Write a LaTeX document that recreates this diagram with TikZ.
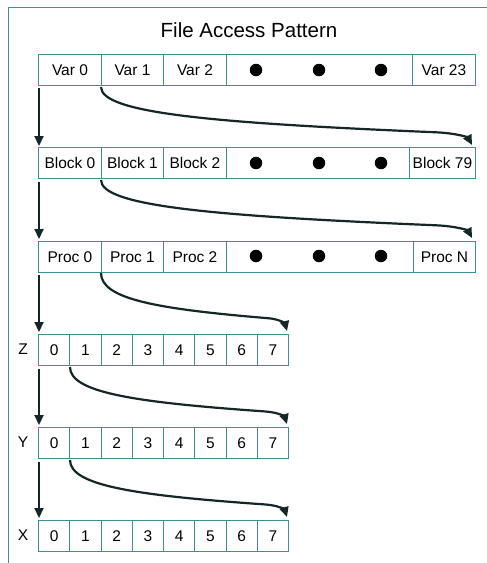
\documentclass[tikz,border=0pt]{standalone}
\usepackage{fontspec}
\setmainfont{Liberation Sans}
\usetikzlibrary{arrows.meta,calc}

\definecolor{cellline}{HTML}{3E9090}
\definecolor{arrowink}{HTML}{142626}

\tikzset{
  cell/.style={draw=cellline, line width=0.9pt, minimum height=31pt, inner sep=0pt,
               font=\fontsize{15.5}{15.5}\selectfont, anchor=north west},
  dot/.style={circle, fill=black, inner sep=0pt, minimum size=12.5pt},
  rowlabel/.style={font=\fontsize{15.5}{15.5}\selectfont},
  flow/.style={draw=arrowink, line width=2.2pt,
               -{Triangle[length=10pt,width=9pt]}},
}

% wavy connector from (#1) to (#2): drops, runs right, then dips into the target
\newcommand{\sweep}[2]{%
  \draw[flow] let \p1=(#1), \p2=(#2), \n1={\x2-\x1}, \n2={\y2-\y1} in
    (#1) .. controls ($(\x1,\y1)+(0,0.45*\n2)$) and ($(\x1,\y1)+(0.3*\n1,0.62*\n2)$) ..
    ($(\x1,\y1)+(0.9*\n1,0.78*\n2)$)
    .. controls ($(\x1,\y1)+(0.965*\n1,0.797*\n2)$) and ($(\x1,\y1)+(0.99*\n1,0.88*\n2)$) ..
    (#2);}

\begin{document}
\begin{tikzpicture}[x=1pt,y=-1pt]
\useasboundingbox (0,0) rectangle (487,563);

% outer frame (open on the right and bottom)
\draw[cellline, line width=0.9pt] (8,563) -- (8,7.5) -- (487,7.5);

\node[font=\fontsize{20.5}{20.5}\selectfont] (title) at (249,30) {File Access Pattern};

% ---- variables ----
\node[cell, minimum width=63pt] (v0) at (38,54) {Var 0};
\node[cell, minimum width=62pt] (v1) at (101,54) {Var 1};
\node[cell, minimum width=63pt] (v2) at (163,54) {Var 2};
\node[cell, minimum width=186pt] (vd) at (226,54) {};
\node[cell, minimum width=63pt] (v23) at (412,54) {Var 23};
\node[dot] (vd1) at (256,70) {};
\node[dot] (vd2) at (319,70) {};
\node[dot] (vd3) at (381,70) {};

% ---- blocks ----
\node[cell, minimum width=63pt] (b0) at (38,147) {Block 0};
\node[cell, minimum width=62pt] (b1) at (101,147) {Block 1};
\node[cell, minimum width=63pt] (b2) at (163,147) {Block 2};
\node[cell, minimum width=183pt] (bd) at (226,147) {};
\node[cell, minimum width=66pt] (b79) at (409,147) {Block 79};
\node[dot] (bd1) at (256,163) {};
\node[dot] (bd2) at (319,163) {};
\node[dot] (bd3) at (381,163) {};

% ---- processes ----
\node[cell, minimum width=63pt] (p0) at (38,241) {Proc 0};
\node[cell, minimum width=62pt] (p1) at (101,241) {Proc 1};
\node[cell, minimum width=63pt] (p2) at (163,241) {Proc 2};
\node[cell, minimum width=187pt] (pd) at (226,241) {};
\node[cell, minimum width=62pt] (pN) at (413,241) {Proc N};
\node[dot] (pd1) at (256,256) {};
\node[dot] (pd2) at (319,256) {};
\node[dot] (pd3) at (381,256) {};

% ---- Z, Y, X index rows ----
\foreach \r/\yy in {Z/334, Y/427, X/520} {
  \node[rowlabel] (lab\r) at (23,\yy+15.5) {\r};
  \foreach \i in {0,...,7} {
    \node[cell, minimum width=31.25pt] (\r\i) at (38+31.25*\i,\yy) {\i};
  }
}

% ---- downward arrows along the left ----
\coordinate (d0s) at (39,88);   \coordinate (d0e) at (39,146);
\coordinate (d1s) at (39,182);  \coordinate (d1e) at (39,239);
\coordinate (d2s) at (39,275);  \coordinate (d2e) at (39,332);
\coordinate (d3s) at (39,369);  \coordinate (d3e) at (39,425);
\coordinate (d4s) at (39,462);  \coordinate (d4e) at (39,518);
\foreach \k in {0,...,4} { \draw[flow] (d\k s) -- (d\k e); }

% ---- sweeping arrows ----
\coordinate (s0) at (101,87);   \coordinate (e0) at (472,145);
\coordinate (s1) at (101,180);  \coordinate (e1) at (472,238);
\coordinate (s2) at (101,273);  \coordinate (e2) at (287,331);
\coordinate (s3) at (70,367);   \coordinate (e3) at (287,424);
\coordinate (s4) at (70,460);   \coordinate (e4) at (287,517);
\sweep{s0}{e0}
\sweep{s1}{e1}
\sweep{s2}{e2}
\sweep{s3}{e3}
\sweep{s4}{e4}
\end{tikzpicture}
\end{document}
